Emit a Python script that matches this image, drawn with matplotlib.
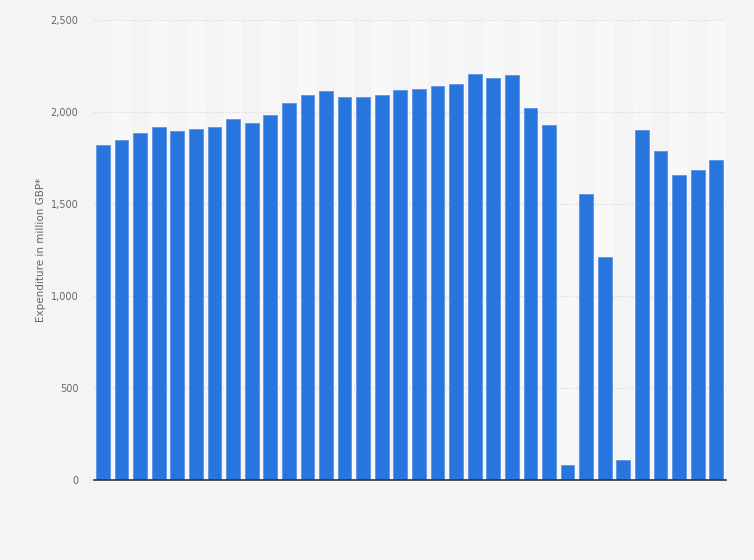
import numpy as np
import matplotlib
matplotlib.use("Agg")
import matplotlib.pyplot as plt

# expenditure in million GBP, one value per period (no category labels shown)
values = [1823, 1851, 1889, 1921, 1899, 1910, 1921, 1965, 1943, 1986,
          2052, 2095, 2117, 2084, 2084, 2095, 2122, 2128, 2144, 2155,
          2209, 2188, 2204, 2025, 1932, 84, 1557, 1215, 111, 1905,
          1791, 1660, 1688, 1742]
yticks = [0, 500, 1000, 1500, 2000, 2500]
ytick_labels = ["0", "500", "1,000", "1,500", "2,000", "2,500"]

BG = "#f4f4f4"
BAR = "#2876dd"

fig = plt.figure(figsize=(7.54, 5.6), dpi=100, facecolor=BG)
ax = fig.add_axes([0.1243, 0.142, 0.838, 0.822])
ax.set_facecolor(BG)

x = np.arange(len(values))
# alternating light column bands
for i in x:
    if i % 2 == 1:
        ax.axvspan(i - 0.5, i + 0.5, color="#f8f8f8", lw=0, zorder=0)

for y in yticks[1:]:
    ax.axhline(y, color="#d8d8d8", lw=0.9, ls=(0, (1, 1.5)), zorder=1)

ax.bar(x, values, width=0.74, color=BAR, edgecolor="#5a95e6",
       linewidth=0.6, zorder=3)

ax.set_xlim(-0.5, len(values) - 0.5)
ax.set_ylim(0, 2500)
ax.set_xticks([])
ax.set_yticks(yticks)
ax.set_yticklabels(ytick_labels, fontsize=7, color="#666666")
ax.tick_params(axis="y", length=0, pad=11)

for side in ["top", "right", "left"]:
    ax.spines[side].set_visible(False)
ax.spines["bottom"].set_color("#333333")
ax.spines["bottom"].set_linewidth(1.2)
ax.spines["bottom"].set_zorder(4)

ax.set_ylabel("Expenditure in million GBP*", fontsize=7.5, color="#666666",
              labelpad=3)

fig.savefig("out.png", dpi=100, facecolor=BG)
